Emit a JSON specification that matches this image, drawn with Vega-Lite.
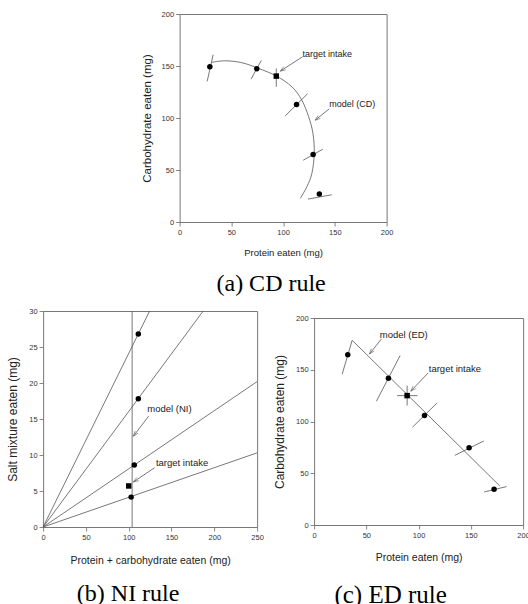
{
  "$schema": "https://vega.github.io/schema/vega-lite/v6.json",
  "background": "white",
  "padding": {"left": 6, "top": 9, "right": 0, "bottom": 0},
  "config": {
    "view": {"stroke": "#777", "strokeWidth": 1},
    "axis": {"grid": false, "domain": false, "ticks": true, "tickSize": 4, "tickColor": "#666", "tickWidth": 0.8,
      "labelFont": "Liberation Sans", "labelFontSize": 7.5, "labelColor": "#333", "labelPadding": 2,
      "titleFont": "Liberation Sans", "titleFontWeight": "normal", "titleColor": "#222"},
    "title": {"font": "Liberation Serif", "fontWeight": "normal", "color": "#000", "orient": "bottom", "anchor": "middle"},
    "text": {"font": "Liberation Sans"}
  },
  "datasets": {
    "aModel": [
      {"i": 1, "x": 31, "y": 153.5}, {"i": 2, "x": 44, "y": 155}, {"i": 3, "x": 60, "y": 153.2},
      {"i": 4, "x": 76, "y": 147.8}, {"i": 5, "x": 93.4, "y": 140.4}, {"i": 6, "x": 108.5, "y": 130},
      {"i": 7, "x": 118, "y": 117.3}, {"i": 8, "x": 124.6, "y": 101.3}, {"i": 9, "x": 128.8, "y": 85.3},
      {"i": 10, "x": 130.1, "y": 66}, {"i": 11, "x": 127.8, "y": 46.8}, {"i": 12, "x": 123, "y": 34},
      {"i": 13, "x": 116.6, "y": 22.8}
    ],
    "aErr": [
      {"x": 26.6, "y": 135.2, "x2": 32.4, "y2": 160.9},
      {"x": 69, "y": 137.4, "x2": 79, "y2": 155.4},
      {"x": 93.4, "y": 147.7, "x2": 93.4, "y2": 130},
      {"x": 102, "y": 102, "x2": 123.6, "y2": 123.3},
      {"x": 119.4, "y": 59.4, "x2": 138.4, "y2": 70},
      {"x": 124, "y": 22, "x2": 147, "y2": 26.2}
    ],
    "aPts": [
      {"x": 29.2, "y": 149.3, "kind": "observed"}, {"x": 74.5, "y": 147.3, "kind": "observed"},
      {"x": 113, "y": 113, "kind": "observed"}, {"x": 129, "y": 64.8, "kind": "observed"},
      {"x": 135, "y": 27, "kind": "observed"}, {"x": 93.4, "y": 140.3, "kind": "target"}
    ],
    "aArr": [
      {"label": "target intake", "tx": 118.8, "ty": 162, "x": 118.8, "y": 158.9, "x2": 97.3, "y2": 145.1},
      {"label": "model (CD)", "tx": 144.5, "ty": 113.3, "x": 144.5, "y": 108.8, "x2": 131, "y2": 97.9}
    ],
    "bLines": [
      {"x": 0, "y": 0, "x2": 124.4, "y2": 30},
      {"x": 0, "y": 0, "x2": 187, "y2": 30},
      {"x": 0, "y": 0, "x2": 250, "y2": 20.2},
      {"x": 0, "y": 0, "x2": 250, "y2": 10.3},
      {"x": 104, "y": 0, "x2": 104, "y2": 30}
    ],
    "bPts": [
      {"x": 111.2, "y": 26.8, "kind": "observed"}, {"x": 111.2, "y": 17.8, "kind": "observed"},
      {"x": 106.5, "y": 8.6, "kind": "observed"}, {"x": 102.8, "y": 4.15, "kind": "observed"},
      {"x": 100, "y": 5.7, "kind": "target"}
    ],
    "bArr": [
      {"label": "model (NI)", "tx": 121.7, "ty": 16.4, "x": 123.3, "y": 15.4, "x2": 105.4, "y2": 12.6},
      {"label": "target intake", "tx": 131.8, "ty": 8.84, "x": 130.3, "y": 8.24, "x2": 105.4, "y2": 6.25}
    ],
    "cLines": [
      {"x": 36.4, "y": 178.5, "x2": 177.7, "y2": 37.7},
      {"x": 26.8, "y": 145.6, "x2": 36.4, "y2": 178.5},
      {"x": 59.6, "y": 119.6, "x2": 82.3, "y2": 163.7},
      {"x": 79.4, "y": 125, "x2": 98.9, "y2": 125},
      {"x": 89, "y": 134.7, "x2": 89, "y2": 115.4},
      {"x": 94.1, "y": 94.5, "x2": 117.7, "y2": 118},
      {"x": 134.6, "y": 67.3, "x2": 162.4, "y2": 81.2},
      {"x": 162.7, "y": 31.9, "x2": 184.1, "y2": 37.1}
    ],
    "cPts": [
      {"x": 32.2, "y": 164.5, "kind": "observed"}, {"x": 71.1, "y": 141.8, "kind": "observed"},
      {"x": 105.6, "y": 105.8, "kind": "observed"}, {"x": 148.3, "y": 74.7, "kind": "observed"},
      {"x": 172.2, "y": 34.5, "kind": "observed"}, {"x": 89, "y": 125, "kind": "target"}
    ],
    "cArr": [
      {"label": "model (ED)", "tx": 62.8, "ty": 183.3, "x": 64.4, "y": 179.7, "x2": 53, "y2": 165.3},
      {"label": "target intake", "tx": 109.7, "ty": 151.1, "x": 109.1, "y": 146.9, "x2": 92.5, "y2": 129.3}
    ]
  },
  "vconcat": [
    {
      "width": 207, "height": 208,
      "title": {"text": "(a) CD rule", "fontSize": 24, "dx": -12, "offset": 15},
      "encoding": {
        "x": {"field": "x", "type": "quantitative", "scale": {"domain": [0, 200]},
          "axis": {"values": [0, 50, 100, 150, 200], "title": "Protein eaten (mg)", "titleFontSize": 9.5, "labelFlush": false, "titlePadding": 12}},
        "y": {"field": "y", "type": "quantitative", "scale": {"domain": [0, 200]},
          "axis": {"values": [0, 50, 100, 150, 200], "title": "Carbohydrate eaten (mg)", "titleFontSize": 11.5, "titlePadding": 9}}
      },
      "layer": [
        {"data": {"name": "aModel"}, "mark": {"type": "line", "interpolate": "cardinal", "color": "#555", "strokeWidth": 0.8}, "encoding": {"order": {"field": "i"}}},
        {"data": {"name": "aErr"}, "mark": {"type": "rule", "color": "#555", "strokeWidth": 0.8}, "encoding": {"x2": {"field": "x2"}, "y2": {"field": "y2"}}},
        {"data": {"name": "aPts"}, "mark": {"type": "point", "filled": true, "color": "#000", "opacity": 1},
          "encoding": {"shape": {"field": "kind", "type": "nominal", "scale": {"domain": ["observed", "target"], "range": ["circle", "square"]}, "legend": null}, "size": {"value": 30}}},
        {"data": {"name": "aArr"}, "mark": {"type": "rule", "color": "#555", "strokeWidth": 0.8}, "encoding": {"x2": {"field": "x2"}, "y2": {"field": "y2"}}},
        {"data": {"name": "aArr"}, "transform": [{"calculate": "atan2((datum.x2-datum.x)*1.035,(datum.y2-datum.y)*1.04)*180/PI", "as": "ang"}],
          "mark": {"type": "point", "shape": "M-0.35,1L0,0L0.35,1", "filled": false, "color": "#555", "strokeWidth": 0.8, "size": 110},
          "encoding": {"x": {"field": "x2", "type": "quantitative"}, "y": {"field": "y2", "type": "quantitative"}, "angle": {"field": "ang", "type": "quantitative", "scale": null}}},
        {"data": {"name": "aArr"}, "mark": {"type": "text", "align": "left", "baseline": "middle", "fontSize": 9, "color": "#222"},
          "encoding": {"x": {"field": "tx", "type": "quantitative"}, "y": {"field": "ty", "type": "quantitative"}, "text": {"field": "label"}}}
      ]
    },
    {
      "spacing": 8,
      "hconcat": [
        {
          "width": 214, "height": 216,
          "title": {"text": "(b) NI rule", "fontSize": 24, "dx": -22, "offset": 16},
          "encoding": {
            "x": {"field": "x", "type": "quantitative", "scale": {"domain": [0, 250]},
              "axis": {"values": [0, 50, 100, 150, 200, 250], "title": "Protein + carbohydrate eaten (mg)", "titleFontSize": 10.5, "labelFlush": false, "titlePadding": 15}},
            "y": {"field": "y", "type": "quantitative", "scale": {"domain": [0, 30]},
              "axis": {"values": [0, 5, 10, 15, 20, 25, 30], "title": "Salt mixture eaten (mg)", "titleFontSize": 12, "titlePadding": 9}}
          },
          "layer": [
            {"data": {"name": "bLines"}, "mark": {"type": "rule", "color": "#555", "strokeWidth": 0.8}, "encoding": {"x2": {"field": "x2"}, "y2": {"field": "y2"}}},
            {"data": {"name": "bPts"}, "mark": {"type": "point", "filled": true, "color": "#000", "opacity": 1},
              "encoding": {"shape": {"field": "kind", "type": "nominal", "scale": {"domain": ["observed", "target"], "range": ["circle", "square"]}, "legend": null}, "size": {"value": 30}}},
            {"data": {"name": "bArr"}, "mark": {"type": "rule", "color": "#555", "strokeWidth": 0.8}, "encoding": {"x2": {"field": "x2"}, "y2": {"field": "y2"}}},
            {"data": {"name": "bArr"}, "transform": [{"calculate": "atan2((datum.x2-datum.x)*0.856,(datum.y2-datum.y)*7.2)*180/PI", "as": "ang"}],
              "mark": {"type": "point", "shape": "M-0.35,1L0,0L0.35,1", "filled": false, "color": "#555", "strokeWidth": 0.8, "size": 110},
              "encoding": {"x": {"field": "x2", "type": "quantitative"}, "y": {"field": "y2", "type": "quantitative"}, "angle": {"field": "ang", "type": "quantitative", "scale": null}}},
            {"data": {"name": "bArr"}, "mark": {"type": "text", "align": "left", "baseline": "middle", "fontSize": 9.5, "color": "#222"},
              "encoding": {"x": {"field": "tx", "type": "quantitative"}, "y": {"field": "ty", "type": "quantitative"}, "text": {"field": "label"}}}
          ]
        },
        {
          "spacing": 1,
          "vconcat": [
            {"width": 1, "height": 1, "data": {"values": []}, "mark": "point", "view": {"stroke": null}},
            {
              "width": 209, "height": 207,
              "title": {"text": "(c) ED rule", "fontSize": 25, "dx": -28, "offset": 20},
              "encoding": {
                "x": {"field": "x", "type": "quantitative", "scale": {"domain": [0, 200]},
                  "axis": {"values": [0, 50, 100, 150, 200], "title": "Protein eaten (mg)", "titleFontSize": 10.5, "labelFlush": false, "titlePadding": 14}},
                "y": {"field": "y", "type": "quantitative", "scale": {"domain": [0, 200]},
                  "axis": {"values": [0, 50, 100, 150, 200], "title": "Carbohydrate eaten (mg)", "titleFontSize": 12, "titlePadding": 9}}
              },
              "layer": [
                {"data": {"name": "cLines"}, "mark": {"type": "rule", "color": "#555", "strokeWidth": 0.8}, "encoding": {"x2": {"field": "x2"}, "y2": {"field": "y2"}}},
                {"data": {"name": "cPts"}, "mark": {"type": "point", "filled": true, "color": "#000", "opacity": 1},
                  "encoding": {"shape": {"field": "kind", "type": "nominal", "scale": {"domain": ["observed", "target"], "range": ["circle", "square"]}, "legend": null}, "size": {"value": 30}}},
                {"data": {"name": "cArr"}, "mark": {"type": "rule", "color": "#555", "strokeWidth": 0.8}, "encoding": {"x2": {"field": "x2"}, "y2": {"field": "y2"}}},
                {"data": {"name": "cArr"}, "transform": [{"calculate": "atan2((datum.x2-datum.x)*1.045,(datum.y2-datum.y)*1.035)*180/PI", "as": "ang"}],
                  "mark": {"type": "point", "shape": "M-0.35,1L0,0L0.35,1", "filled": false, "color": "#555", "strokeWidth": 0.8, "size": 110},
                  "encoding": {"x": {"field": "x2", "type": "quantitative"}, "y": {"field": "y2", "type": "quantitative"}, "angle": {"field": "ang", "type": "quantitative", "scale": null}}},
                {"data": {"name": "cArr"}, "mark": {"type": "text", "align": "left", "baseline": "middle", "fontSize": 9.5, "color": "#222"},
                  "encoding": {"x": {"field": "tx", "type": "quantitative"}, "y": {"field": "ty", "type": "quantitative"}, "text": {"field": "label"}}}
              ]
            }
          ]
        }
      ]
    }
  ],
  "spacing": 9,
  "center": true
}
